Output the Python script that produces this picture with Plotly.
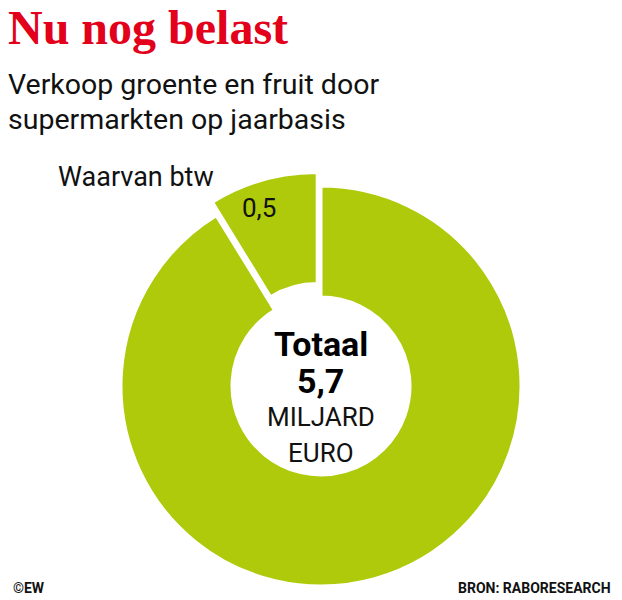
import plotly.graph_objects as go

# Data (clockwise from 12 o'clock: rest first, then the btw share ending at 12)
labels = ["Overig", "Waarvan btw"]
values = [5.2, 0.5]
total = sum(values)

GREEN = "#aeca0a"
RED = "#e2001a"

def nl(v):
    return f"{v:.1f}".replace(".", ",")

W, H = 622, 600
def px(x): return x / W
def py(y): return 1 - y / H

fig = go.Figure()
fig.add_trace(go.Pie(
    labels=labels, values=values, sort=False, direction="clockwise",
    rotation=0, hole=0.445, pull=[0, 0.07],
    marker=dict(colors=[GREEN, GREEN], line=dict(color="white", width=3)),
    textinfo="none", hoverinfo="label+value", showlegend=False,
    domain=dict(x=[px(107), px(535)], y=[0, py(172)]),
))

ann = []
def add(text, x, y, size, family, color="#111", bold=False, xanchor="center", yanchor="middle"):
    ann.append(dict(text=f"<b>{text}</b>" if bold else text, x=px(x), y=py(y),
                    xref="paper", yref="paper", showarrow=False, xanchor=xanchor,
                    yanchor=yanchor, font=dict(size=size, family=family, color=color)))

SANS = "Liberation Sans Narrow, Roboto, Arial"
add("Nu nog belast", 6, 28, 48, "Liberation Serif, DejaVu Serif", RED, True, "left")
add("Verkoop groente en fruit door", 6, 84, 28.5, SANS, "#111", False, "left")
add("supermarkten op jaarbasis", 6, 119, 28.5, SANS, "#111", False, "left")
add(labels[1], 56, 177, 27, SANS, "#111", False, "left")
add(nl(values[1]), 259, 208, 26, SANS)
add("Totaal", 321, 344, 34, SANS, "#000", True)
add(nl(total), 321, 381, 34, SANS, "#000", True)
add("MILJARD", 321, 417, 26, SANS)
add("EURO", 321, 453, 26, SANS)
add("©EW", 11, 588, 14, SANS, "#111", True, "left")
add("BRON: RABORESEARCH", 613, 588, 14, SANS, "#111", True, "right")

fig.update_layout(width=W, height=H, margin=dict(l=0, r=0, t=0, b=0),
                  paper_bgcolor="white", plot_bgcolor="white", annotations=ann)
fig.write_html("out.html")
